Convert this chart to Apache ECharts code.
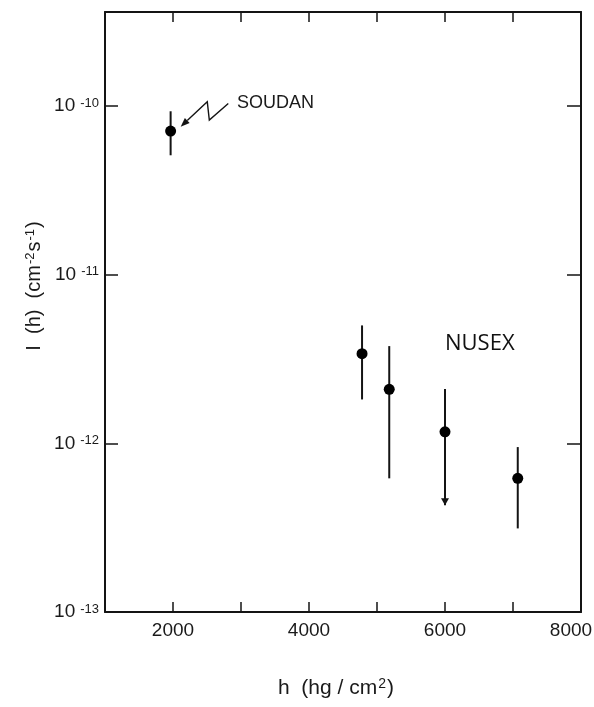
<!DOCTYPE html>
<html>
<head>
<meta charset="utf-8">
<script src="https://cdn.jsdelivr.net/npm/echarts@6/dist/echarts.min.js"></script>
<style>
  html, body { margin: 0; padding: 0; background: #fff; overflow: hidden; }
  #chart { width: 594px; height: 707px; }
</style>
</head>
<body>
<div id="chart"></div>
<script>
// ---- data ----
const soudanH   = [1965];
const soudanI   = [7.1e-11];
const soudanHi  = [9.3e-11];
const soudanLo  = [5.1e-11];

const nusexH    = [4780, 5180, 6000, 7070];
const nusexI    = [3.4e-12, 2.09e-12, 1.17e-12, 6.2e-13];
const nusexHi   = [5.0e-12, 3.77e-12, 2.1e-12, 9.5e-13];
const nusexLo   = [1.82e-12, 6.2e-13, 4.3e-13, 3.13e-13];
const nusexUpperLimit = [false, false, true, false];

const xTicks = [1000, 2000, 3000, 4000, 5000, 6000, 7000, 8000];
const xLabelled = [2000, 4000, 6000, 8000];
const yDecades = [-13, -12, -11, -10];

// annotation geometry (data coordinates: h, log10 I)
const soudanArrowPath = [[2813, -9.985], [2534, -10.084], [2504, -9.975], [2113, -10.123]];
const soudanLabelPos = [2941, -9.981];
const nusexLabelPos = [6000, -11.41];

const yMin = -13, yMax = -9.443;
const lg = v => Math.log10(v);

const points = [];
const bars = [];
soudanH.forEach((h, i) => {
  points.push([h, lg(soudanI[i])]);
  bars.push([h, lg(soudanLo[i]), lg(soudanHi[i]), 0]);
});
nusexH.forEach((h, i) => {
  points.push([h, lg(nusexI[i])]);
  bars.push([h, lg(nusexLo[i]), lg(nusexHi[i]), nusexUpperLimit[i] ? 1 : 0]);
});

const ink = '#141414';
const chart = echarts.init(document.getElementById('chart'), null, { renderer: 'canvas', width: 594, height: 707 });

const axisCommon = {
  axisLine: { show: true, lineStyle: { color: ink, width: 2 } },
  splitLine: { show: false },
};

const labelFont = 'Liberation Sans, Arial, sans-serif';

chart.setOption({
  backgroundColor: '#ffffff',
  animation: false,
  grid: { left: 105, right: 13, top: 12, bottom: 95, containLabel: false, outerBoundsMode: 'none' },
  xAxis: [
    Object.assign({
      type: 'value', min: 1000, max: 8000, interval: 1000, position: 'bottom',
      axisTick: { show: true, inside: true, length: 10, lineStyle: { color: ink, width: 1.5 } },
      axisLabel: {
        show: true, margin: 9, color: '#1a1a1a',
        fontFamily: labelFont, fontSize: 19,
        hideOverlap: false,
        formatter: v => xLabelled.indexOf(v) < 0 ? '' : (v === 8000 ? '{r|' + v + '}' : String(v)),
        rich: {
          r: { fontFamily: labelFont, fontSize: 19, color: '#1a1a1a', padding: [0, 20, 0, 0] }
        }
      }
    }, axisCommon),
    Object.assign({
      type: 'value', min: 1000, max: 8000, interval: 1000, position: 'top',
      axisTick: { show: true, inside: true, length: 10, lineStyle: { color: ink, width: 1.5 } },
      axisLabel: { show: false }
    }, axisCommon)
  ],
  yAxis: [
    Object.assign({
      type: 'value', min: yMin, max: yMax, interval: 1, position: 'left',
      axisTick: { show: true, inside: true, length: 13, lineStyle: { color: ink, width: 1.5 } },
      axisLabel: {
        show: true, margin: 6, color: '#1a1a1a',
        formatter: v => (yDecades.indexOf(Math.round(v)) >= 0 && Math.abs(v - Math.round(v)) < 1e-6)
          ? '{b|10}{s|' + Math.round(v) + '}' : '',
        rich: {
          b: { fontFamily: labelFont, fontSize: 19, lineHeight: 19, verticalAlign: 'bottom', color: '#1a1a1a' },
          s: { fontFamily: labelFont, fontSize: 13, lineHeight: 13, verticalAlign: 'top', padding: [0, 0, 15, 5], color: '#1a1a1a' }
        }
      }
    }, axisCommon),
    Object.assign({
      type: 'value', min: yMin, max: yMax, interval: 1, position: 'right',
      axisTick: { show: true, inside: true, length: 14, lineStyle: { color: ink, width: 1.5 } },
      axisLabel: { show: false }
    }, axisCommon)
  ],
  series: [
    {
      type: 'custom',
      name: 'errors',
      xAxisIndex: 0, yAxisIndex: 0,
      data: bars,
      renderItem: function (params, api) {
        const x = api.value(0);
        const lo = api.coord([x, api.value(1)]);
        const hi = api.coord([x, api.value(2)]);
        const children = [{
          type: 'line',
          shape: { x1: lo[0], y1: lo[1], x2: hi[0], y2: hi[1] },
          style: { stroke: ink, lineWidth: 2 }
        }];
        if (api.value(3) === 1) {
          children.push({
            type: 'polygon',
            shape: { points: [[lo[0] - 4, lo[1] - 7], [lo[0] + 4, lo[1] - 7], [lo[0], lo[1]]] },
            style: { fill: ink }
          });
        }
        return { type: 'group', children: children };
      },
      z: 2
    },
    {
      type: 'scatter',
      name: 'points',
      xAxisIndex: 0, yAxisIndex: 0,
      data: points,
      symbol: 'circle',
      symbolSize: 11,
      itemStyle: { color: '#000', opacity: 1 },
      z: 3
    }
  ]
});

function drawAnnotations() {
  const px = p => chart.convertToPixel({ gridIndex: 0 }, p);
  const path = soudanArrowPath.map(px);
  const tip = path[path.length - 1];
  const prev = path[path.length - 2];
  const dx = tip[0] - prev[0], dy = tip[1] - prev[1];
  const len = Math.sqrt(dx * dx + dy * dy);
  const ux = dx / len, uy = dy / len;
  const hl = 9, hw = 3.5;
  const bx = tip[0] - ux * hl, by = tip[1] - uy * hl;
  const head = [[tip[0], tip[1]], [bx - uy * hw, by + ux * hw], [bx + uy * hw, by - ux * hw]];
  const sl = px(soudanLabelPos);
  const nl = px(nusexLabelPos);

  chart.setOption({
    graphic: [
      {
        type: 'polyline', silent: true,
        shape: { points: path.slice(0, path.length - 1).concat([[bx, by]]) },
        style: { stroke: ink, lineWidth: 1.4, fill: null }
      },
      { type: 'polygon', silent: true, shape: { points: head }, style: { fill: ink } },
      {
        type: 'text', silent: true, x: sl[0], y: sl[1],
        style: {
          text: 'SOUDAN', fill: '#1a1a1a',
          font: '18px "Liberation Sans", Arial, sans-serif',
          align: 'left', verticalAlign: 'middle'
        }
      },
      {
        type: 'text', silent: true, x: nl[0], y: nl[1],
        style: {
          text: 'NUSEX', fill: '#111',
          font: '22px "Open Sans", sans-serif',
          align: 'left', verticalAlign: 'middle'
        }
      },
      {
        type: 'text', silent: true, x: 34, y: 286, rotation: Math.PI / 2,
        style: {
          text: '{m|I  (h)  (cm}{s|-2}{m|s}{s|-1}{m|)}',
          align: 'center', verticalAlign: 'middle', fill: '#1a1a1a',
          rich: {
            m: { fontFamily: labelFont, fontSize: 20, lineHeight: 20, verticalAlign: 'bottom', fill: '#1a1a1a' },
            s: { fontFamily: labelFont, fontSize: 13, lineHeight: 13, verticalAlign: 'top', padding: [0, 1, 10, 1], fill: '#1a1a1a' }
          }
        }
      },
      {
        type: 'text', silent: true, x: 336, y: 688,
        style: {
          text: '{m|h  (hg / cm}{s|2}{m|)}',
          align: 'center', verticalAlign: 'middle', fill: '#1a1a1a',
          rich: {
            m: { fontFamily: labelFont, fontSize: 21, lineHeight: 21, verticalAlign: 'bottom', fill: '#1a1a1a' },
            s: { fontFamily: labelFont, fontSize: 14, lineHeight: 14, verticalAlign: 'top', padding: [0, 1, 8, 1], fill: '#1a1a1a' }
          }
        }
      }
    ]
  });
}
drawAnnotations();
</script>
</body>
</html>
